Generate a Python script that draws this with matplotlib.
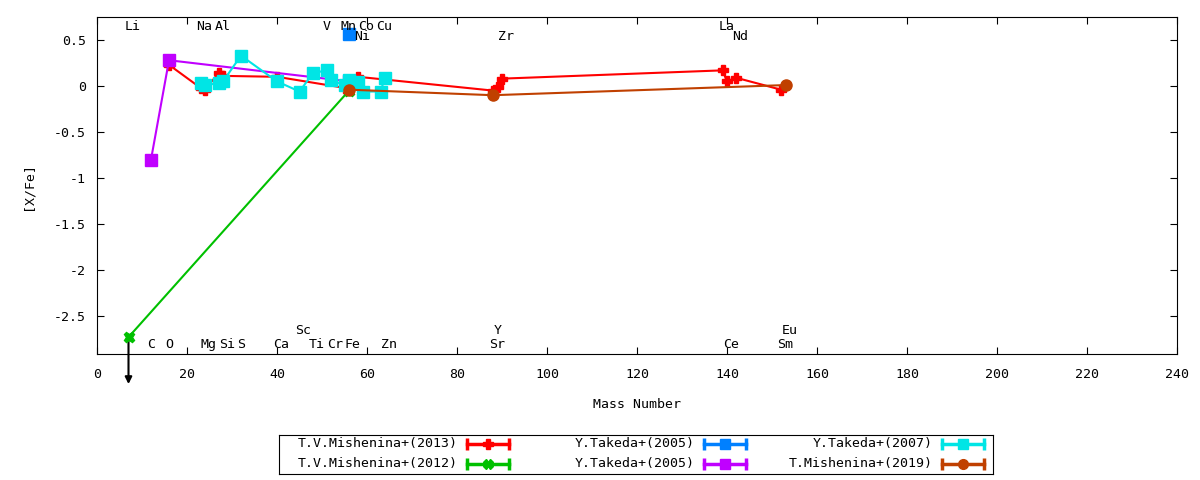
import matplotlib
matplotlib.use('Agg')
import matplotlib.pyplot as plt

plt.rcParams['font.family'] = 'DejaVu Sans Mono'
plt.rcParams['font.size'] = 9.5
plt.rcParams['axes.unicode_minus'] = False

# abundance data [X/Fe] vs mass number
mish13_x = [16, 23, 24, 27, 28, 40, 55, 58, 88, 89, 90, 139, 140, 142, 152]
mish13_y = [0.23, -0.02, -0.04, 0.14, 0.11, 0.10, -0.02, 0.10, -0.05, -0.01, 0.08, 0.17, 0.05, 0.09, -0.04]

mish12_x = [7, 56]
mish12_y = [-2.73, -0.05]

takeda05a_x = [56]
takeda05a_y = [0.57]

takeda05b_x = [12, 16, 56]
takeda05b_y = [-0.80, 0.28, 0.05]

takeda07_x = [23, 24, 27, 28, 32, 40, 45, 48, 51, 52, 55, 56, 58, 59, 63, 64]
takeda07_y = [0.03, 0.01, 0.03, 0.05, 0.33, 0.05, -0.06, 0.14, 0.17, 0.06, 0.01, 0.06, 0.04, -0.06, -0.06, 0.09]

mish19_x = [56, 88, 153]
mish19_y = [-0.04, -0.10, 0.01]

names = ['T.V.Mishenina+(2013)', 'T.V.Mishenina+(2012)', 'Y.Takeda+(2005)',
         'Y.Takeda+(2005)', 'Y.Takeda+(2007)', 'T.Mishenina+(2019)']
colors = ['#ff0000', '#00c000', '#0080ff', '#c000ff', '#00e5e5', '#c04000']
markers = ['P', 'X', 's', 's', 's', 'o']
xs = [mish13_x, mish12_x, takeda05a_x, takeda05b_x, takeda07_x, mish19_x]
ys = [mish13_y, mish12_y, takeda05a_y, takeda05b_y, takeda07_y, mish19_y]

# element labels (mass number positions)
top_el = ['Li', 'Na', 'Al', 'V', 'Mn', 'Co', 'Cu', 'La']
top_mass = [7, 23, 27, 51, 55, 59, 63, 139]
top2_el = ['Ni', 'Zr', 'Nd']
top2_mass = [58, 90, 142]
bot_el = ['C', 'O', 'Mg', 'Si', 'S', 'Ca', 'Ti', 'Cr', 'Fe', 'Zn', 'Sr', 'Ce', 'Sm']
bot_mass = [12, 16, 24, 28, 32, 40, 48, 52, 56, 64, 88, 140, 152]
bot2_el = ['Sc', 'Y', 'Eu']
bot2_mass = [45, 89, 153]

fig = plt.figure(figsize=(12, 4.8), dpi=100)
ax = fig.add_axes([97/1200, 1-354/480, 1080/1200, 337/480])

for x, y, c, m in zip(xs, ys, colors, markers):
    ms = 7.5 if m in ('P', 'X') else 8
    ax.plot(x, y, color=c, lw=1.5, marker=m, ms=ms, mec=c, mfc=c)

# upper limit arrow for Li
ax.annotate('', xy=(mish12_x[0], -3.24), xytext=(mish12_x[0], mish12_y[0]),
            arrowprops=dict(arrowstyle='-|>', color='black', lw=1.5,
                            mutation_scale=10, shrinkA=0, shrinkB=0),
            annotation_clip=False, zorder=1)

for el, m in zip(top_el, top_mass):
    ax.text(m - 0.9, 0.645, el, ha='left', va='center')
for el, m in zip(top2_el, top2_mass):
    ax.text(m - 0.9, 0.535, el, ha='left', va='center')
for el, m in zip(bot_el, bot_mass):
    ax.text(m - 0.9, -2.815, el, ha='left', va='center')
for el, m in zip(bot2_el, bot2_mass):
    ax.text(m - 0.9, -2.66, el, ha='left', va='center')

ax.set_xlim(0, 240)
ax.set_ylim(-2.913, 0.75)
ax.set_xticks(range(0, 241, 20))
ax.set_yticks([0.5, 0, -0.5, -1, -1.5, -2, -2.5])
ax.set_yticklabels(['0.5', '0', '-0.5', '-1', '-1.5', '-2', '-2.5'])
ax.tick_params(direction='in', length=5, top=True, right=True)
ax.tick_params(axis='x', pad=10)
ax.tick_params(axis='y', pad=8)
ax.set_xlabel('Mass Number', labelpad=12)
ax.set_ylabel('[X/Fe]', labelpad=14)

# gnuplot-style legend box
lg = fig.add_axes([279/1200, 1-474/480, 714/1200, 39/480])
lg.set_xlim(0, 714)
lg.set_ylim(0, 39)
lg.set_xticks([])
lg.set_yticks([])
col_text = [179, 416, 654]
row_y = [30, 10]
for i, (name, c, m) in enumerate(zip(names, colors, markers)):
    col, row = divmod(i, 2)
    tx = col_text[col]
    yy = row_y[row]
    lg.text(tx, yy, name, ha='right', va='center')
    x0, x1 = tx + 9, tx + 51
    lg.plot([x0, x1], [yy, yy], color=c, lw=2.5)
    lg.plot([x0, x1], [yy, yy], ls='none', marker='|', ms=8, mew=2.5, color=c)
    lg.plot([(x0 + x1) / 2], [yy], ls='none', marker=m, ms=7, color=c)

fig.savefig('out.png', dpi=100)
